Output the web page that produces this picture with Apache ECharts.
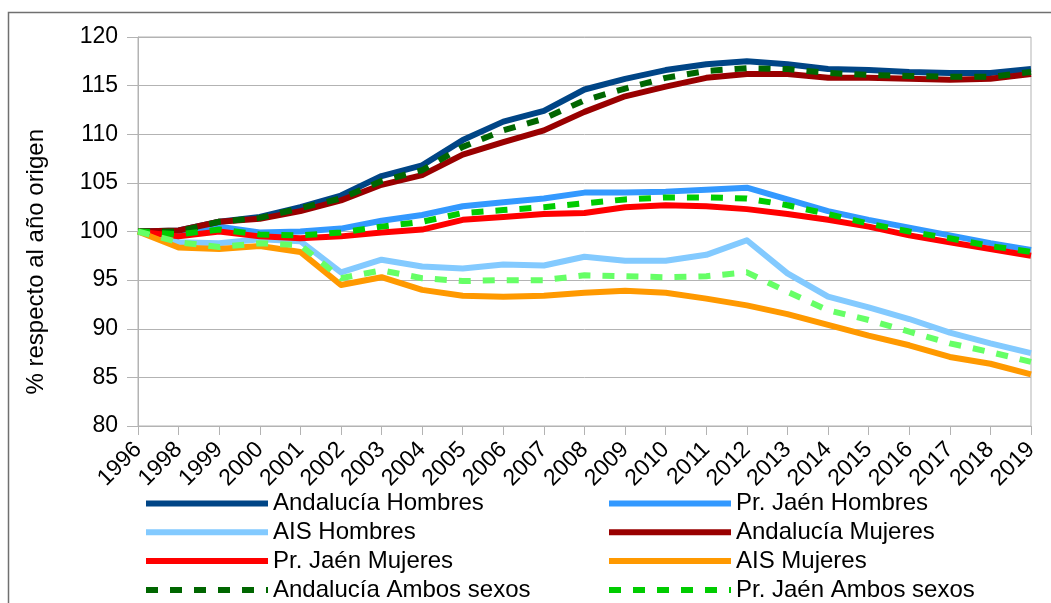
<!DOCTYPE html>
<html style="height: 100%" lang="es">
<head>
    <meta charset="UTF-8">
    <title>Evolución respecto al año origen</title>
</head>
<body style="height: 100%; margin: 0; background: #fff">
<div id="main1" style="width: 1051px; height: 603px"></div>

<script src="https://cdn.jsdelivr.net/npm/echarts@6/dist/echarts.min.js"></script>
<script type="text/javascript">

    // años (falta 1997)
    var years = ['1996', '1998', '1999', '2000', '2001', '2002', '2003', '2004', '2005', '2006', '2007',
        '2008', '2009', '2010', '2011', '2012', '2013', '2014', '2015', '2016', '2017', '2018', '2019'];

    var andHombres = [100, 100.1, 101.0, 101.5, 102.5, 103.7, 105.7, 106.8, 109.4, 111.3, 112.4,
        114.6, 115.7, 116.6, 117.2, 117.5, 117.2, 116.7, 116.6, 116.4, 116.3, 116.3, 116.7];
    var jaenHombres = [100, 99.85, 100.5, 99.9, 100.0, 100.3, 101.1, 101.7, 102.6, 103.0, 103.4,
        104.0, 104.0, 104.1, 104.3, 104.5, 103.3, 102.1, 101.2, 100.4, 99.6, 98.8, 98.1];
    var aisHombres = [100, 98.9, 98.8, 99.2, 99.0, 95.8, 97.1, 96.4, 96.2, 96.6, 96.5,
        97.4, 97.0, 97.0, 97.6, 99.1, 95.7, 93.3, 92.2, 91.0, 89.6, 88.5, 87.5];
    var andMujeres = [100, 100.1, 101.0, 101.3, 102.1, 103.2, 104.8, 105.8, 107.9, 109.2, 110.4,
        112.3, 113.9, 114.9, 115.8, 116.2, 116.2, 115.8, 115.8, 115.7, 115.6, 115.7, 116.2];
    var jaenMujeres = [100, 99.5, 100.0, 99.5, 99.3, 99.5, 99.9, 100.2, 101.2, 101.5, 101.8,
        101.9, 102.5, 102.7, 102.6, 102.3, 101.8, 101.2, 100.5, 99.6, 98.9, 98.2, 97.5];
    var aisMujeres = [100, 98.35, 98.2, 98.5, 97.9, 94.5, 95.3, 94.0, 93.4, 93.3, 93.4,
        93.7, 93.9, 93.7, 93.1, 92.4, 91.5, 90.4, 89.3, 88.3, 87.1, 86.4, 85.3];
    var andAmbos = [100, 100.0, 101.0, 101.4, 102.4, 103.4, 105.2, 106.3, 108.7, 110.4, 111.6,
        113.5, 114.7, 115.8, 116.5, 116.8, 116.7, 116.3, 116.1, 116.0, 115.9, 115.9, 116.4];
    var jaenAmbos = [100, 99.7, 100.2, 99.7, 99.6, 99.9, 100.5, 101.0, 101.9, 102.2, 102.5,
        102.9, 103.3, 103.5, 103.5, 103.4, 102.7, 101.8, 100.8, 100.0, 99.3, 98.5, 97.9];
    var aisAmbos = [100, 98.9, 98.4, 98.8, 98.6, 95.2, 96.0, 95.2, 94.9, 95.0, 95.0,
        95.5, 95.4, 95.3, 95.4, 95.8, 93.8, 91.9, 90.9, 89.7, 88.5, 87.6, 86.6];

    var yTicks = [80, 85, 90, 95, 100, 105, 110, 115, 120];

    var font = 'Liberation Sans, Arial, sans-serif';

    function serie(name, data, color, dashed) {
        return {
            name: name,
            type: 'line',
            data: data,
            symbol: 'none',
            lineStyle: {
                color: color,
                width: 6,
                type: dashed ? [12, 12] : 'solid',
                cap: 'butt',
                join: 'round'
            },
            itemStyle: { color: color }
        };
    }

    var myChart1 = echarts.init(document.getElementById('main1'));

    var legendBase = {
        orient: 'vertical',
        padding: 0,
        itemWidth: 122,
        itemHeight: 6,
        itemGap: 4.8,
        height: 300,
        lineStyle: { width: 6 },
        itemStyle: { opacity: 0 },
        textStyle: { fontFamily: font, fontSize: 24, color: '#000', lineHeight: 24 },
        top: 491.5
    };

    option1 = {
        backgroundColor: '#fff',
        animation: false,
        graphic: [
            {
                type: 'rect',
                shape: { x: 8.5, y: 12.5, width: 1100, height: 700 },
                style: { fill: 'none', stroke: '#707070', lineWidth: 1.5 },
                silent: true
            },
            {
                type: 'text',
                left: 24,
                top: 129,
                rotation: Math.PI / 2,
                style: {
                    text: '% respecto al año origen',
                    font: '24px Liberation Sans, Arial, sans-serif',
                    fill: '#000'
                }
            }
        ],
        grid: {
            left: 138,
            top: 37,
            right: 20,
            bottom: 177,
            show: true,
            borderColor: '#b3b3b3',
            borderWidth: 1
        },
        legend: [
            Object.assign({}, legendBase, {
                left: 143,
                data: ['Andalucía Hombres', 'AIS Hombres', 'Pr. Jaén Mujeres', 'Andalucía Ambos sexos', 'AIS Ambos sexos']
            }),
            Object.assign({}, legendBase, {
                left: 606,
                data: ['Pr. Jaén Hombres', 'Andalucía Mujeres', 'AIS Mujeres', 'Pr. Jaén Ambos sexos']
            })
        ],
        xAxis: {
            type: 'category',
            data: years,
            boundaryGap: false,
            axisLine: { lineStyle: { color: '#b3b3b3' } },
            axisTick: { show: true, length: 9, interval: 0, lineStyle: { color: '#b3b3b3' } },
            axisLabel: {
                interval: 0,
                rotate: 45,
                fontFamily: font,
                fontSize: 23,
                color: '#000',
                margin: 20
            },
            splitLine: { show: false }
        },
        yAxis: {
            type: 'value',
            min: yTicks[0],
            max: yTicks[yTicks.length - 1],
            interval: 5,
            axisLine: { show: true, lineStyle: { color: '#b3b3b3' } },
            axisTick: { show: true, length: 11, lineStyle: { color: '#b3b3b3' } },
            axisLabel: { fontFamily: font, fontSize: 23, color: '#000', margin: 20 },
            splitLine: { lineStyle: { color: '#b3b3b3', width: 1 } }
        },
        series: [
            serie('Andalucía Hombres', andHombres, '#004586', false),
            serie('Pr. Jaén Hombres', jaenHombres, '#3399ff', false),
            serie('AIS Hombres', aisHombres, '#83caff', false),
            serie('Andalucía Mujeres', andMujeres, '#990000', false),
            serie('Pr. Jaén Mujeres', jaenMujeres, '#ff0000', false),
            serie('AIS Mujeres', aisMujeres, '#ff9900', false),
            serie('Andalucía Ambos sexos', andAmbos, '#006600', true),
            serie('Pr. Jaén Ambos sexos', jaenAmbos, '#00cc00', true),
            serie('AIS Ambos sexos', aisAmbos, '#66ff66', true)
        ]
    };

    myChart1.setOption(option1);

</script>
</body>
</html>
